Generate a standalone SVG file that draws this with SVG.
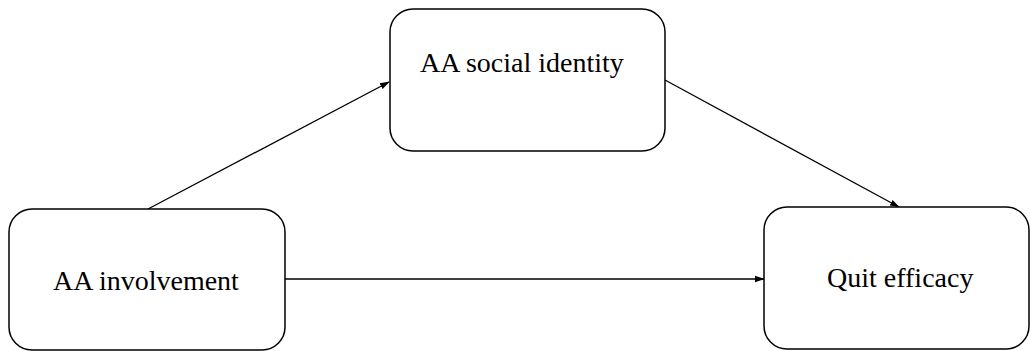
<svg xmlns="http://www.w3.org/2000/svg" width="1030" height="351" viewBox="0 0 1030 351">
<style>
.box{fill:#fff;stroke:#000;stroke-width:1.5}
.lbl{font-family:"Liberation Serif","Times New Roman",serif;font-size:28px;fill:#000}
.conn{stroke:#000;stroke-width:1.3;fill:none;marker-end:url(#ah)}
</style>
<defs>
<marker id="ah" markerWidth="10" markerHeight="8" refX="9" refY="4" orient="auto" markerUnits="userSpaceOnUse">
<path d="M0,0.8 L10,4 L0,7.2 Z" fill="#000"/>
</marker>
</defs>
<rect width="1030" height="351" fill="#fff"/>
<g id="connectors">
<line class="conn" x1="148" y1="209" x2="389" y2="82"/>
<line class="conn" x1="665" y1="80" x2="899" y2="207"/>
<line class="conn" x1="285" y1="279" x2="764" y2="279"/>
</g>
<g id="node-social">
<rect class="box" x="390" y="9" width="275" height="142" rx="23"/>
<text class="lbl" x="420" y="72">AA social identity</text>
</g>
<g id="node-involvement">
<rect class="box" x="9" y="209" width="276" height="141" rx="23"/>
<text class="lbl" x="53" y="290">AA involvement</text>
</g>
<g id="node-quit">
<rect class="box" x="764" y="207" width="265" height="142" rx="23"/>
<text class="lbl" x="827" y="287">Quit efficacy</text>
</g>
</svg>
